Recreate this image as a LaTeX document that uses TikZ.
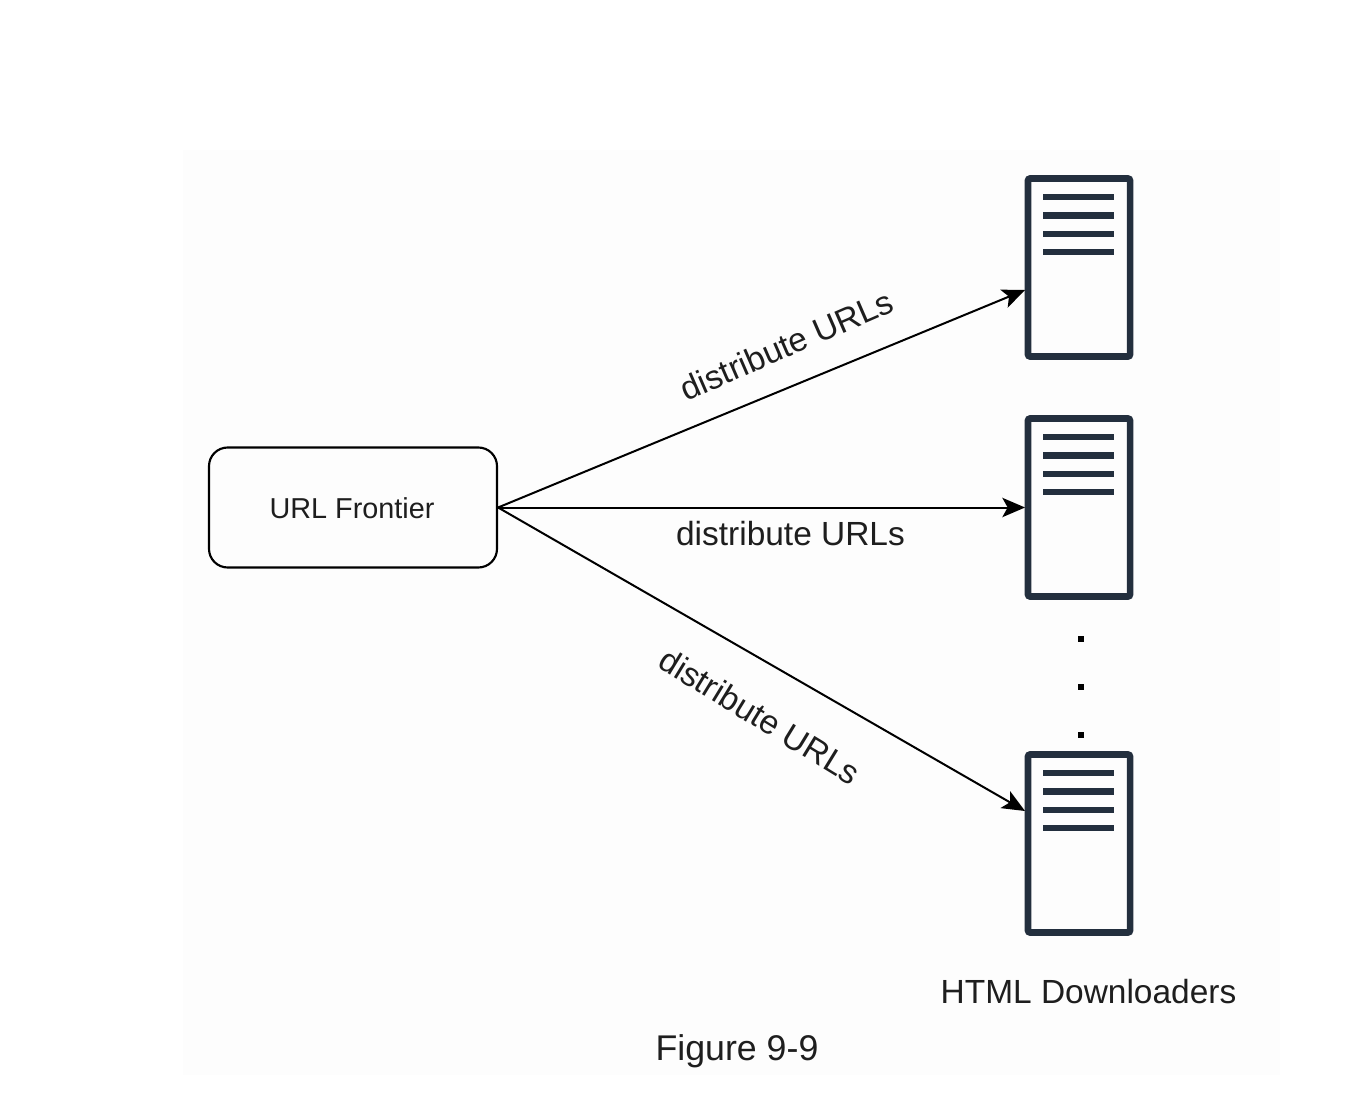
\documentclass[tikz,border=0pt]{standalone}
\usepackage{fontspec}
\setmainfont{Liberation Sans}
\usetikzlibrary{arrows.meta}
\definecolor{srv}{HTML}{232F3E}
\definecolor{txt}{HTML}{1E1E1E}
\definecolor{pagebg}{HTML}{FDFDFD}
\tikzset{
  x=0.75pt,y=-0.75pt,
  srvbox/.style={draw=srv,line width=4.9pt,rounded corners=1.5pt,minimum width=76.5pt,minimum height=133.5pt,inner sep=0pt},
  srvline/.style={draw=srv,line width=5.2pt},
  frontier/.style={draw=black,line width=1.6pt,rounded corners=14pt,minimum width=216pt,minimum height=90pt,inner sep=0pt},
  conn/.style={draw=black,line width=1.5pt,-{Stealth[length=17pt,width=14.5pt,inset=4pt]}},
  lab/.style={inner sep=0pt,text=txt,font=\fontsize{25.1pt}{28pt}\selectfont},
  dotm/.style={fill=black,draw=none,minimum size=5pt,inner sep=0pt},
}
\begin{document}
\begin{tikzpicture}
\useasboundingbox (0,0) rectangle (1366,1094);
\fill[white] (0,0) rectangle (1366,1094);
\fill[pagebg] (183,150) rectangle (1280,1075);
\node[frontier] (uf) at (353,507.5) {};
\node[inner sep=0pt,text=txt,font=\fontsize{21.6pt}{24pt}\selectfont] (ufl) at (352,508.5) {URL Frontier};
\foreach \n/\o in {a/0,b/240,c/576}{
  \node[srvbox] (\n) at (1079,267.5+\o) {};
  \foreach \y in {197,215.5,234,252}{
    \draw[srvline] (1043,\y+\o) -- (1114,\y+\o);
  }
}
\coordinate (ta) at (1025,290);
\coordinate (tb) at (1025,507.5);
\coordinate (tc) at (1025,811);
\draw[conn] (uf.east) -- (ta);
\draw[conn] (uf.east) -- (tb);
\draw[conn] (uf.east) -- (tc);
\node[lab,rotate=23.5] (la) at (786.5,345) {distribute URLs};
\node[lab] (lb) at (790.5,533.5) {distribute URLs};
\node[lab,rotate=-31.5] (lc) at (760,716) {distribute URLs};
\node[dotm] (d1) at (1081,639) {};
\node[dotm] (d2) at (1081,687) {};
\node[dotm] (d3) at (1081,735) {};
\node[lab] (hd) at (1088.5,991.5) {HTML Downloaders};
\node[inner sep=0pt,text=txt,font=\fontsize{26.8pt}{30pt}\selectfont] (fig) at (737,1051) {Figure 9-9};
\end{tikzpicture}
\end{document}
